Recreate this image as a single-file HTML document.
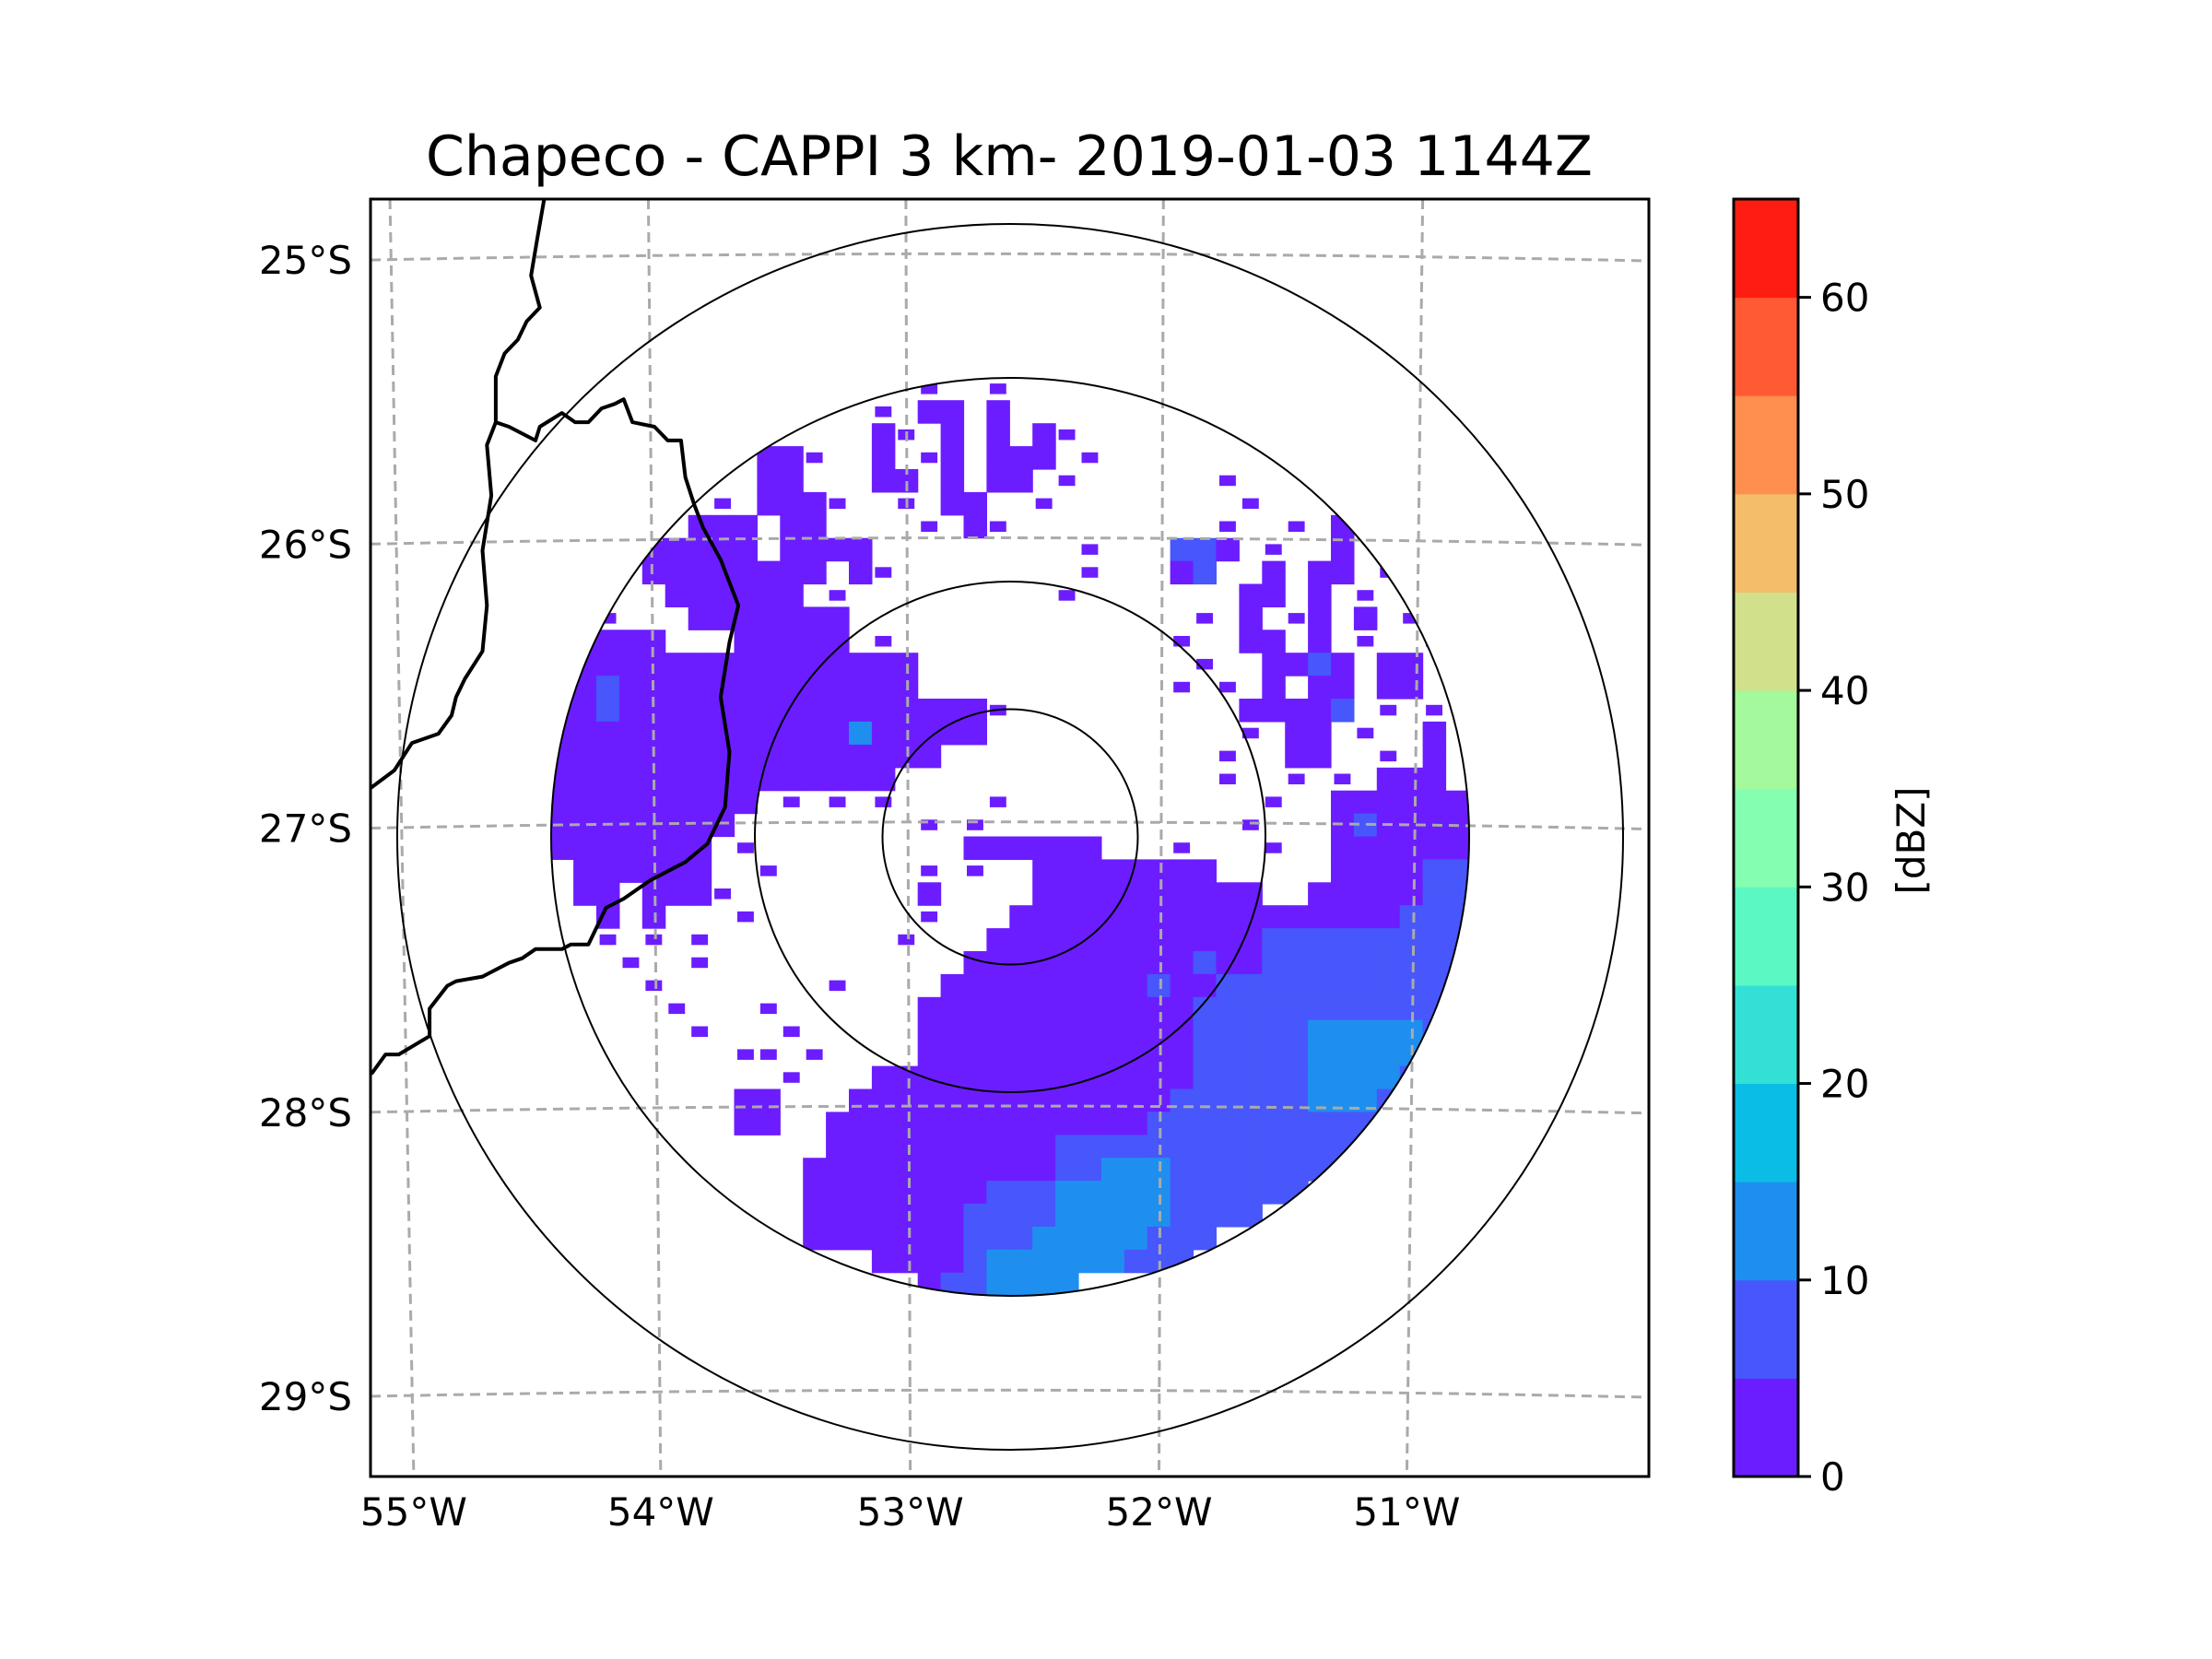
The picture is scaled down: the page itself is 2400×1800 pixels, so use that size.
<!DOCTYPE html>
<html><head><meta charset="utf-8"><style>
html,body{margin:0;padding:0;background:#fff;}
svg{display:block;font-family:"DejaVu Sans","Liberation Sans",sans-serif;}
</style></head><body>
<svg id="fig" width="2400" height="1800" viewBox="0 0 2400 1800" xmlns="http://www.w3.org/2000/svg">
<defs>
<clipPath id="axclip"><rect x="402" y="216" width="1387" height="1386"/></clipPath>
<clipPath id="radclip"><circle cx="1096" cy="908" r="498"/></clipPath>
</defs>
<rect width="2400" height="1800" fill="#fff"/>
<text x="1095" y="190" font-size="60" text-anchor="middle">Chapeco - CAPPI 3 km- 2019-01-03 1144Z</text>
<g id="plot" clip-path="url(#axclip)">
<g id="cells" clip-path="url(#radclip)"></g>
<g id="grid"></g>
<g id="rings"></g>
<g id="borders"></g>
</g>
<rect x="402" y="216" width="1387" height="1386" fill="none" stroke="#000" stroke-width="3"/>
<g id="ylabels"></g>
<g id="xlabels"></g>
<g id="cbar"></g>
<text transform="translate(2088,912) rotate(-90)" font-size="42" text-anchor="middle">[dBZ]</text>
</svg>
<script>
const NS="http://www.w3.org/2000/svg";
// colour levels (dBZ)
const levelBounds=[0,5,10,15,20,25,30,35,40,45,50,55,60,65];
const levelColors=["#6c1dff","#4757fb","#1f8fef","#0abde6","#33e0d6","#5cf8c4","#84feb0","#a3f99b","#d1e08a","#f4bd6a","#ff8f4f","#ff5a33","#ff1c12"];
const cbarTicks=[0,10,20,30,40,50,60];
// radar reflectivity grid (class index: '.'=none, 1=0-5, 2=5-10, 3=10-15 dBZ)
const gridRows=[
"................1..1....................",
"..............1.11.1....................",
"..............11.1.1.11.................",
".........111..1.11.111.1................",
".........11...11.1.11.1......1..........",
".......1.1111..1.11..1........1.........",
"......111.11....1.11.........1..1.11....",
"....11111.1111.........1...221.1..1.1...",
"....11111111.11........1...12..1.11.1...",
".....111111.1.........1.......11.1.1....",
"..1...1111111...............1.1.11.1.1..",
".1111...11111.1............1..11.1.1..1.",
"1111111111111111............1..1121.11..",
"1121111111111111...........1.1.1.11.11..",
"11211111111111111111..........11112.1.1.",
"1111111111111311111...........1.11.1..1.",
"11111111111111111............1..11..1.1.",
"111111111111111..............1..1.1.111.",
"111111111.1.1.1....1...........1..111111",
"11111111........1.1...........1...121111",
"1111111.1.........111111...1...1..111111",
".111111..1......1.1..11111111.....111122",
".11.1111........1....1111111111..1111122",
"..1.1...1.......1...11111111111111111222",
"..1.1.1........1...111111111111222222222",
"...1..1...........1111111111211222222222",
"....1.......1....11111111121122222222222",
".....1...1......111111111111222222222222",
"......1...1.....111111111111222223333322",
"........11.1....111111111111222223333322",
"..........1...111111111111112222233332..",
"........11...1111111111111122222233322..",
"........11..11111111111111222222222222..",
"............111111111122222222222222....",
"...........111111111112233322222222.....",
"...........1111111122233333222222.......",
"...........11111112222333332222.........",
"...........111111122233333222...........",
"..............11112333333222............",
"................1223333.................."
];
// map geometry (zoom-space to pixel)
const gx0=227,gx1=1268,gy0=291,gy1=1293;
const sx=x=>380+x/1.045, sy=y=>120+y*0.9943;
function el(tag,attrs,parent){const e=document.createElementNS(NS,tag);for(const k in attrs)e.setAttribute(k,attrs[k]);parent.appendChild(e);return e;}
const cellG=document.getElementById('cells');
const nR=gridRows.length,nC=40;
const cw=(gx1-gx0)/nC, ch=(gy1-gy0)/nR;
function filled(r,c){if(r<0||r>=nR||c<0||c>=nC)return false;const v=gridRows[r][c];return v&&v!=='.';}
gridRows.forEach((row,r)=>{
  for(let c=0;c<nC;c++){
    const ch_=row[c];
    if(!ch_||ch_==='.')continue;
    const lv=parseInt(ch_)-1;
    let x0=sx(gx0+c*cw), x1=sx(gx0+(c+1)*cw), y0=sy(gy0+r*ch), y1=sy(gy0+(r+1)*ch);
    const nb=(filled(r,c-1)?1:0)+(filled(r,c+1)?1:0)+(filled(r-1,c)?1:0)+(filled(r+1,c)?1:0);
    let w=x1-x0+0.6,h=y1-y0+0.6;
    if(nb<2){const cxm=(x0+x1)/2,cym=(y0+y1)/2;w*=0.7;h*=0.45;x0=cxm-w/2;y0=cym-h/2;}
    const rc=el('rect',{x:x0.toFixed(1),y:y0.toFixed(1),width:w.toFixed(1),height:h.toFixed(1),fill:levelColors[lv]},cellG);
    
    
  }
});
// graticule
const lonNames=["55°W","54°W","53°W","52°W","51°W"];
const lonTop=[45,338,630,922,1216], lonBot=[72,352,635,917,1198];
const latNames=["25°S","26°S","27°S","28°S","29°S"];
const latY=[163,473,783,1093,1403];
const gridG=document.getElementById('grid');
lonNames.forEach((n,i)=>{
  const l=el('line',{x1:sx(lonTop[i]),y1:216,x2:sx(lonBot[i]),y2:1602,stroke:"#aaa","stroke-width":3,"stroke-dasharray":"11,7"},gridG);
  
  
  const t=el('text',{x:sx(lonBot[i]),y:1655,"font-size":42,"text-anchor":"middle"},document.getElementById('xlabels'));
  t.textContent=n;
  
  
});
latNames.forEach((n,i)=>{
  const y=sy(latY[i]);
  const p=el('path',{d:`M402 ${y} Q1096 ${y-14} 1789 ${y+1}`,fill:"none",stroke:"#aaa","stroke-width":3,"stroke-dasharray":"11,7"},gridG);
  
  
  const t=el('text',{x:382,y:y+15,"font-size":42,"text-anchor":"end"},document.getElementById('ylabels'));
  t.textContent=n;
  
  
});
// range rings
const ringRadii=[138.5,277,498,665];
const ringG=document.getElementById('rings');
ringRadii.forEach(r=>{
  const c=el('circle',{cx:1096,cy:908,r:r,fill:"none",stroke:"#000","stroke-width":2},ringG);
  
  
});
// borders (zoom-space points)
const border1=[[220,96],[212,140],[205,180],[215,215],[200,230],[190,250],[175,265],[165,290],[165,340],[155,365],[160,420],[150,480],[155,540],[150,590],[130,620],[120,640],[115,660],[100,680],[70,690],[50,720],[15,745]];
const border2=[[165,340],[180,345],[210,360],[215,345],[240,330],[255,340],[270,340],[285,325],[300,320],[310,315],[320,340],[345,345],[360,360],[375,360],[380,400],[390,430],[400,455],[420,490],[440,540],[430,580],[420,640],[430,700],[425,760],[405,800],[380,820],[340,840],[310,860],[290,870],[270,910],[250,910],[240,915],[210,915],[195,925],[180,930],[160,940],[150,945],[120,950],[110,955],[90,980],[90,1010],[55,1030],[40,1030],[25,1050],[15,1055]];
const bG=document.getElementById('borders');
[border1,border2].forEach(b=>{
  const d=b.map((p,i)=>(i?'L':'M')+sx(p[0]).toFixed(1)+' '+sy(p[1]).toFixed(1)).join(' ');
  const p=el('path',{d:d,fill:"none",stroke:"#000","stroke-width":4,"stroke-linejoin":"round"},bG);
  
  
});
// colorbar
const cb=document.getElementById('cbar');
const cbX=1881,cbW=70,cbTop=216,cbBot=1602;
const vmin=levelBounds[0],vmax=levelBounds[levelBounds.length-1];
const cy=v=>cbBot-(v-vmin)/(vmax-vmin)*(cbBot-cbTop);
levelColors.forEach((col,i)=>{
  const y0=cy(levelBounds[i+1]),y1=cy(levelBounds[i]);
  const r=el('rect',{x:cbX,y:y0,width:cbW,height:y1-y0+0.5,fill:col},cb);
  
  
});
const fr=el('rect',{x:cbX,y:cbTop,width:cbW,height:cbBot-cbTop,fill:"none",stroke:"#000","stroke-width":3},cb);


cbarTicks.forEach(v=>{
  const y=cy(v);
  const l=el('line',{x1:cbX+cbW,y1:y,x2:cbX+cbW+14,y2:y,stroke:"#000","stroke-width":3},cb);
  
  
  const t=el('text',{x:cbX+cbW+24,y:y+15,"font-size":42},cb);
  t.textContent=v;
  
  
});
</script>
</body></html>
